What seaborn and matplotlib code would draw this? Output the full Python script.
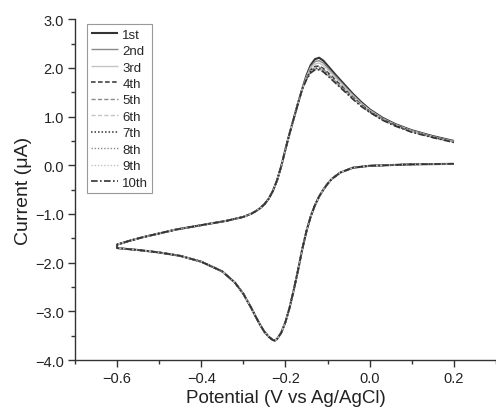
import matplotlib
matplotlib.use("Agg")
import matplotlib.pyplot as plt
import seaborn as sns
import pandas as pd
from matplotlib.ticker import MultipleLocator, FuncFormatter

# Cathodic sweep (0.20 V down to -0.60 V), shared by all cycles
e_red = [0.20, 0.10, 0.00, -0.04, -0.07, -0.09, -0.10, -0.11, -0.12, -0.13, -0.14,
         -0.15, -0.16, -0.17, -0.18, -0.19, -0.20, -0.21, -0.22, -0.225, -0.23, -0.24,
         -0.25, -0.26, -0.27, -0.28, -0.30, -0.32, -0.35, -0.40, -0.45, -0.50, -0.55, -0.60]
i_red = [0.03, 0.02, -0.01, -0.05, -0.15, -0.28, -0.38, -0.50, -0.64, -0.82, -1.05,
         -1.35, -1.72, -2.15, -2.55, -2.92, -3.22, -3.44, -3.57, -3.60, -3.59, -3.52,
         -3.42, -3.28, -3.12, -2.95, -2.64, -2.41, -2.18, -1.98, -1.86, -1.79, -1.74, -1.70]

# Anodic sweep, shared part (-0.60 V up to the foot of the oxidation wave)
e_ox_start = [-0.60, -0.57, -0.54, -0.50, -0.46, -0.42, -0.38, -0.34, -0.30, -0.28,
              -0.27, -0.26, -0.25, -0.24, -0.23, -0.22, -0.21, -0.20, -0.19, -0.18, -0.17, -0.16]
i_ox_start = [-1.63, -1.55, -1.48, -1.40, -1.32, -1.26, -1.20, -1.14, -1.06, -0.99,
              -0.94, -0.88, -0.80, -0.69, -0.53, -0.31, -0.02, 0.33, 0.66, 0.97, 1.28, 1.57]

# Anodic peak and diffusion tail, per cycle
e_ox_peak = [-0.15, -0.14, -0.13, -0.12, -0.11, -0.10, -0.09, -0.08, -0.06,
             -0.04, -0.02, 0.00, 0.03, 0.06, 0.10, 0.15, 0.20]
i_ox_1st = [1.85, 2.06, 2.18, 2.21, 2.15, 2.05, 1.95, 1.85, 1.66, 1.47, 1.30, 1.15, 0.98, 0.85, 0.72, 0.60, 0.50]
i_ox_2nd = [1.83, 2.03, 2.13, 2.15, 2.10, 2.01, 1.91, 1.82, 1.63, 1.45, 1.28, 1.14, 0.97, 0.84, 0.71, 0.59, 0.49]
i_ox_3rd = [1.81, 2.00, 2.08, 2.10, 2.05, 1.97, 1.88, 1.79, 1.61, 1.43, 1.27, 1.13, 0.96, 0.84, 0.71, 0.59, 0.49]
i_ox_4th = [1.79, 1.96, 2.03, 2.04, 1.99, 1.91, 1.83, 1.74, 1.57, 1.40, 1.25, 1.11, 0.95, 0.83, 0.70, 0.58, 0.48]
i_ox_5th = [1.78, 1.95, 2.01, 2.02, 1.97, 1.89, 1.81, 1.72, 1.56, 1.39, 1.24, 1.11, 0.95, 0.82, 0.70, 0.58, 0.48]
i_ox_6th = [1.78, 1.94, 2.00, 2.00, 1.96, 1.88, 1.80, 1.71, 1.55, 1.38, 1.23, 1.10, 0.94, 0.82, 0.69, 0.58, 0.48]
i_ox_7th = [1.77, 1.93, 1.99, 1.99, 1.95, 1.87, 1.79, 1.70, 1.54, 1.38, 1.23, 1.10, 0.94, 0.82, 0.69, 0.58, 0.48]
i_ox_8th = [1.77, 1.92, 1.98, 1.98, 1.94, 1.86, 1.78, 1.69, 1.53, 1.37, 1.22, 1.09, 0.94, 0.81, 0.69, 0.57, 0.48]
i_ox_9th = [1.76, 1.91, 1.97, 1.97, 1.93, 1.85, 1.77, 1.69, 1.53, 1.37, 1.22, 1.09, 0.93, 0.81, 0.69, 0.57, 0.48]
i_ox_10th = [1.76, 1.90, 1.96, 1.96, 1.92, 1.84, 1.76, 1.68, 1.52, 1.36, 1.21, 1.09, 0.93, 0.81, 0.68, 0.57, 0.47]

cycles = ["1st", "2nd", "3rd", "4th", "5th", "6th", "7th", "8th", "9th", "10th"]
i_ox_peaks = [i_ox_1st, i_ox_2nd, i_ox_3rd, i_ox_4th, i_ox_5th,
              i_ox_6th, i_ox_7th, i_ox_8th, i_ox_9th, i_ox_10th]

x_ticks = [-0.6, -0.4, -0.2, 0.0, 0.2]
y_ticks = [-4.0, -3.0, -2.0, -1.0, 0.0, 1.0, 2.0, 3.0]

dark, mid, light = "#333333", "#8a8a8a", "#c4c4c4"
colors = [dark, mid, light, dark, mid, light, dark, mid, light, dark]
solid, dash, dot, dashdot = (0, ()), (0, (3.0, 1.6)), (0, (1.0, 1.3)), (0, (4.0, 1.4, 1.0, 1.4))
styles = [solid, solid, solid, dash, dash, dash, dot, dot, dot, dashdot]
widths = [1.5, 1.0, 1.0, 1.1, 1.0, 1.0, 1.1, 1.0, 1.0, 1.2]

# each cycle: cathodic sweep, then the anodic sweep back up to 0.20 V
rows = []
for cyc, i_peak in zip(cycles, i_ox_peaks):
    e_all = e_red + e_ox_start + e_ox_peak
    i_all = i_red + i_ox_start + i_peak
    for k, (e, i) in enumerate(zip(e_all, i_all)):
        rows.append({"cycle": cyc, "step": k, "E": e, "I": i})
df = pd.DataFrame(rows)

sns.set_theme(style="ticks")
plt.rcParams["font.family"] = ["Liberation Sans", "DejaVu Sans"]

fig = plt.figure(figsize=(4.96, 4.14), dpi=100)
ax = fig.add_axes([0.151, 0.128, 0.849, 0.823])

for cyc, col, ls, lw in zip(cycles, colors, styles, widths):
    sub = df[df["cycle"] == cyc]
    sns.lineplot(data=sub, x="E", y="I", sort=False, estimator=None, ax=ax,
                 color=col, linestyle=ls, linewidth=lw, label=cyc)


def one_decimal(v, _pos):
    return f"{v:.1f}".replace("-", "\u2212")


ax.set_xlim(-0.7, 0.3)
ax.set_ylim(-4.0, 3.0)
ax.set_xticks(x_ticks)
ax.set_yticks(y_ticks)
ax.xaxis.set_major_formatter(FuncFormatter(one_decimal))
ax.yaxis.set_major_formatter(FuncFormatter(one_decimal))
ax.xaxis.set_minor_locator(MultipleLocator(0.1))
ax.yaxis.set_minor_locator(MultipleLocator(0.5))
ax.tick_params(which="major", direction="out", length=5, width=1, color="#333333",
               labelsize=10.5, labelcolor="#222222", pad=3)
ax.tick_params(which="minor", direction="out", length=3, width=1, color="#333333")
for side in ("top", "right"):
    ax.spines[side].set_visible(False)
for side in ("left", "bottom"):
    ax.spines[side].set_color("#333333")
    ax.spines[side].set_linewidth(1.0)

ax.set_xlabel("Potential (V vs Ag/AgCl)", fontsize=13.5, color="#222222", labelpad=3)
ax.set_ylabel("Current (\u03bcA)", fontsize=14, color="#222222", labelpad=2)

leg = ax.legend(loc="upper left", bbox_to_anchor=(0.028, 0.985), fontsize=9.5,
                frameon=True, fancybox=False, edgecolor="#999999", framealpha=1,
                handlelength=2.1, handletextpad=0.3, labelspacing=0.32,
                borderpad=0.3, borderaxespad=0)
leg.get_frame().set_linewidth(0.8)

fig.savefig("out.png", dpi=100)
